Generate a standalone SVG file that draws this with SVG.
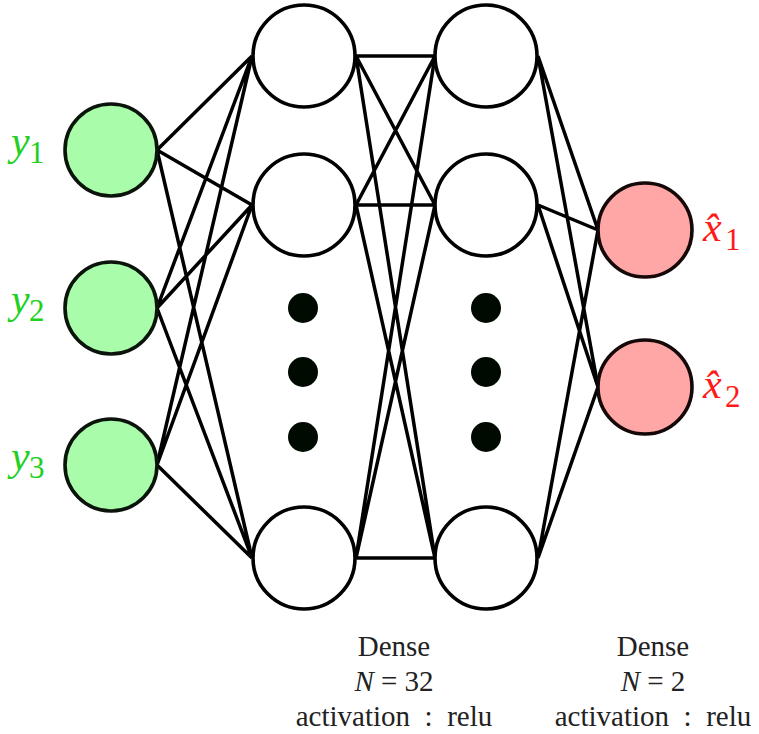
<svg xmlns="http://www.w3.org/2000/svg" width="759" height="734" viewBox="0 0 759 734">
<style>
.c{stroke-width:3.6}
.in{fill:#a9fca9;stroke:#0a140a}
.out{fill:#ffa6a6;stroke:#140808}
.hid{fill:#fff;stroke:#000}
.e{stroke:#000;stroke-width:3.5;fill:none}
.dot{fill:#000a00}
text{font-family:'Liberation Serif','DejaVu Serif',serif}
.lbl{font-size:29px;fill:#222;text-anchor:middle}
.vg{font-size:42px;fill:#22d022}
.vr{font-size:42px;fill:#ff1a1a}
.sub{font-size:31px;font-style:normal}
</style>
<g id="edges" class="e">
<path d="M157 150L252 56M157 150L252 205M157 150L252 558M157 308L252 56M157 308L252 205M157 308L252 558M157 465L252 56M157 465L252 205M157 465L252 558"/>
<path d="M356 56L435 56M356 56L435 205M356 56L435 558M356 205L435 56M356 205L435 205M356 205L435 558M356 558L435 56M356 558L435 205M356 558L435 558"/>
<path d="M538 56L598 230M538 56L598 387M538 205L598 230M538 205L598 387M538 558L598 230M538 558L598 387"/>
</g>
<g id="y1"><circle class="in c" cx="111" cy="150" r="46"/><text class="vg" x="11" y="155" font-style="italic">y</text><text class="vg sub" x="29" y="163">1</text></g>
<g id="y2"><circle class="in c" cx="111" cy="308" r="46"/><text class="vg" x="11" y="313" font-style="italic">y</text><text class="vg sub" x="29" y="321">2</text></g>
<g id="y3"><circle class="in c" cx="111" cy="465" r="46"/><text class="vg" x="11" y="470" font-style="italic">y</text><text class="vg sub" x="29" y="478">3</text></g>
<g id="h1a"><circle class="hid c" cx="304" cy="56" r="51"/></g>
<g id="h1b"><circle class="hid c" cx="304" cy="205" r="51"/></g>
<g id="h1dots"><circle class="dot" cx="303" cy="308" r="15"/><circle class="dot" cx="303" cy="372" r="15"/><circle class="dot" cx="303" cy="437" r="15"/></g>
<g id="h1n"><circle class="hid c" cx="304" cy="558" r="51"/></g>
<g id="h2a"><circle class="hid c" cx="486" cy="56" r="51"/></g>
<g id="h2b"><circle class="hid c" cx="486" cy="205" r="51"/></g>
<g id="h2dots"><circle class="dot" cx="486" cy="308" r="15"/><circle class="dot" cx="486" cy="372" r="15"/><circle class="dot" cx="486" cy="437" r="15"/></g>
<g id="h2n"><circle class="hid c" cx="486" cy="558" r="51"/></g>
<g id="x1"><circle class="out c" cx="645" cy="230" r="47"/><text class="vr" x="703" y="241" font-style="italic">x̂</text><text class="vr sub" x="725" y="250">1</text></g>
<g id="x2"><circle class="out c" cx="645" cy="387" r="47"/><text class="vr" x="703" y="398" font-style="italic">x̂</text><text class="vr sub" x="725" y="407">2</text></g>
<g id="label1">
<text class="lbl" x="394" y="656">Dense</text>
<text class="lbl" x="394" y="691"><tspan font-style="italic">N</tspan> = 32</text>
<text class="lbl" x="394" y="726" xml:space="preserve">activation  :  relu</text>
</g>
<g id="label2">
<text class="lbl" x="653" y="656">Dense</text>
<text class="lbl" x="653" y="691"><tspan font-style="italic">N</tspan> = 2</text>
<text class="lbl" x="653" y="726" xml:space="preserve">activation  :  relu</text>
</g>
</svg>
